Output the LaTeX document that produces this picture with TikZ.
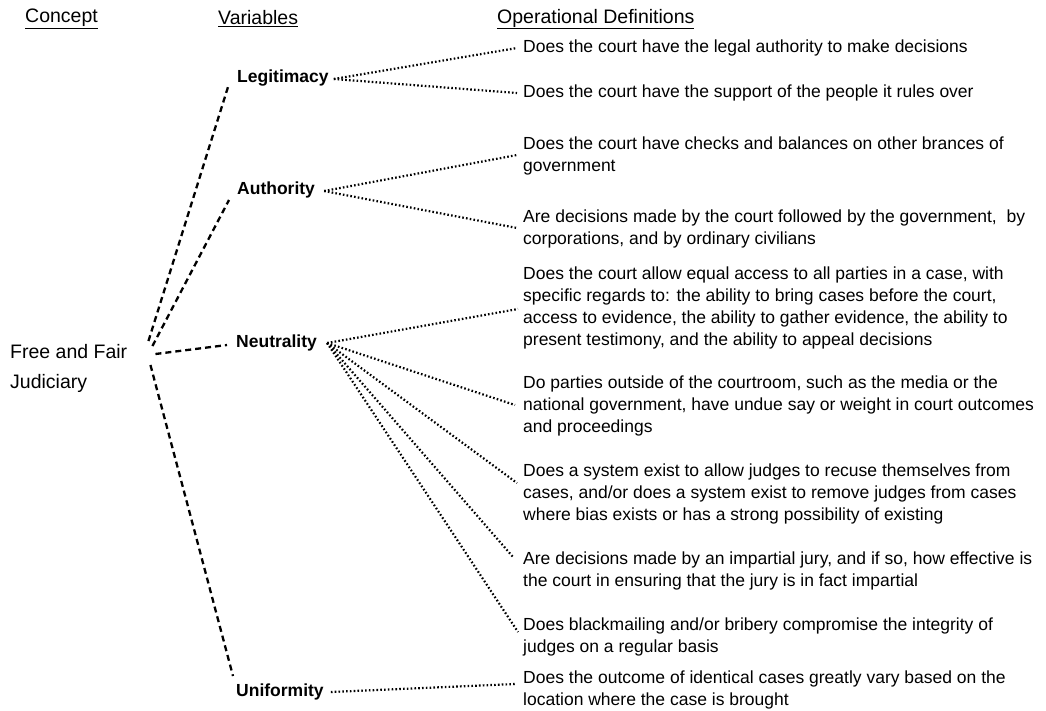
\documentclass[tikz,border=0pt]{standalone}
\usepackage{fontspec}
\setmainfont{Liberation Sans}
\begin{document}
\begin{tikzpicture}[x=1pt,y=-1pt,
  hdr/.style={anchor=west,inner sep=0pt,font=\fontsize{19.5}{24}\selectfont},
  concept/.style={anchor=west,inner sep=0pt,align=left,font=\fontsize{19.5}{30}\selectfont},
  var/.style={anchor=west,inner sep=0pt,font=\fontsize{17.5}{21}\selectfont\bfseries},
  def/.style={anchor=west,inner sep=0pt,align=left,font=\fontsize{17.5}{22}\selectfont},
  dashlink/.style={draw=black,line width=2.3pt,dash pattern=on 6pt off 4pt},
  dotlink/.style={draw=black,line width=2.2pt,dash pattern=on 1.6pt off 2.2pt}]
\useasboundingbox (0,0) rectangle (1046,710);
% headers
\node[hdr] (h1) at (25,19) {\underline{Concept}};
\node[hdr] (h2) at (218,19) {\underline{Variables}};
\node[hdr] (h3) at (497,19) {\underline{Operational Definitions}};
% concept
\node[concept] (ffj) at (10,368) {Free and Fair\\Judiciary};
% variables
\node[var] (leg) at (237,78) {Legitimacy};
\node[var] (aut) at (237,190) {Authority};
\node[var] (neu) at (236,343) {Neutrality};
\node[var] (uni) at (236,692) {Uniformity};
% definitions
\node[def] (d1) at (523,48) {Does the court have the legal authority to make decisions};
\node[def] (d2) at (523,93) {Does the court have the support of the people it rules over};
\node[def] (d3) at (523,156) {Does the court have checks and balances on other brances of\\government};
\node[def] (d4) at (523,229) {Are decisions made by the court followed by the government,\ \ by\\corporations, and by ordinary civilians};
\node[def] (d5) at (523,308) {Does the court allow equal access to all parties in a case, with\\specific regards to: the ability to bring cases before the court,\\access to evidence, the ability to gather evidence, the ability to\\present testimony, and the ability to appeal decisions};
\node[def] (d6) at (523,406) {Do parties outside of the courtroom, such as the media or the\\national government, have undue say or weight in court outcomes\\and proceedings};
\node[def] (d7) at (523,494) {Does a system exist to allow judges to recuse themselves from\\cases, and/or does a system exist to remove judges from cases\\where bias exists or has a strong possibility of existing};
\node[def] (d8) at (523,571) {Are decisions made by an impartial jury, and if so, how effective is\\the court in ensuring that the jury is in fact impartial};
\node[def] (d9) at (523,637) {Does blackmailing and/or bribery compromise the integrity of\\judges on a regular basis};
\node[def] (d10) at (523,690) {Does the outcome of identical cases greatly vary based on the\\location where the case is brought};
% concept to variables (dashed)
\draw[dashlink] ([xshift=21pt,yshift=27pt]ffj.east) -- ([xshift=-9pt,yshift=-9pt]leg.west);
\draw[dashlink] ([xshift=25pt,yshift=22pt]ffj.east) -- ([xshift=-8pt,yshift=-10pt]aut.west);
\draw[dashlink] ([xshift=28pt,yshift=14pt]ffj.east) -- ([xshift=-9pt,yshift=-2pt]neu.west);
\draw[dashlink] ([xshift=23pt,yshift=3pt]ffj.east) -- ([xshift=-3pt,yshift=16pt]uni.west);
% variables to definitions (dotted)
\draw[dotlink] ([xshift=5pt,yshift=-1pt]leg.east) -- ([xshift=-6pt]d1.west);
\draw[dotlink] ([xshift=5pt,yshift=-1pt]leg.east) -- ([xshift=-6pt]d2.west);
\draw[dotlink] ([xshift=9pt,yshift=-1pt]aut.east) -- ([xshift=-6pt,yshift=1pt]d3.west);
\draw[dotlink] ([xshift=9pt,yshift=-1pt]aut.east) -- ([xshift=-6pt,yshift=1pt]d4.west);
\draw[dotlink] ([xshift=10pt]neu.east) -- ([xshift=-5pt,yshift=-1pt]d5.west);
\draw[dotlink] ([xshift=10pt]neu.east) -- ([xshift=-8pt,yshift=1pt]d6.west);
\draw[dotlink] ([xshift=10pt]neu.east) -- ([xshift=-6pt,yshift=11pt]d7.west);
\draw[dotlink] ([xshift=10pt]neu.east) -- ([xshift=-10pt,yshift=14pt]d8.west);
\draw[dotlink] ([xshift=10pt]neu.east) -- ([xshift=-5pt,yshift=5pt]d9.west);
\draw[dotlink] ([xshift=7pt]uni.east) -- ([xshift=-8pt,yshift=6pt]d10.west);
\end{tikzpicture}
\end{document}
